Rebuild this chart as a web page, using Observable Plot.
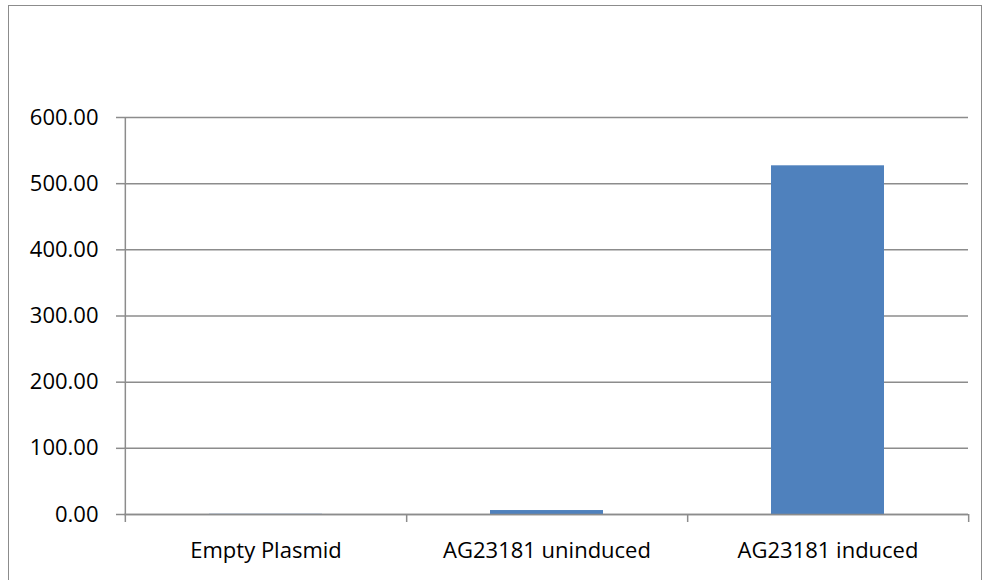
<!DOCTYPE html>
<html><head><meta charset="utf-8">
<script src="https://cdn.jsdelivr.net/npm/d3@7"></script>
<script src="https://cdn.jsdelivr.net/npm/@observablehq/plot@0.6"></script>
<style>
body{margin:0;background:#fff;overflow:hidden;}
#frame{position:absolute;left:8px;top:5px;width:974px;height:600px;border:1.5px solid #8c8c8c;box-sizing:border-box;}
#chart{position:absolute;left:0;top:0;}
</style></head><body>
<div id="frame"></div>
<div id="chart"></div>
<script>
const categories = ["Empty Plasmid", "AG23181 uninduced", "AG23181 induced"];
const values = [0.3, 6, 527];
const yTicks = [0, 100, 200, 300, 400, 500, 600];

const data = categories.map((c, i) => ({cat: c, v: values[i]}));
const W = 984, H = 580, mL = 124, mR = 16, mT = 117, mB = 66;
const step = (W - mL - mR) / categories.length;
const grid = "#8c8c8c";
const FS = 22;

const plot = Plot.plot({
  width: W, height: H,
  marginLeft: mL, marginRight: mR, marginTop: mT, marginBottom: mB,
  style: {fontFamily: "'Open Sans', sans-serif", fontSize: FS + "px", color: "#000", background: "transparent", overflow: "visible"},
  x: {domain: categories, padding: 0, label: null},
  y: {domain: [0, 600], label: null},
  marks: [
    Plot.ruleY(yTicks, {stroke: grid, strokeWidth: 1.5}),
    Plot.axisY({ticks: yTicks, tickFormat: d => d.toFixed(2), tickSize: 8, tickPadding: 18, stroke: grid, strokeWidth: 1.5, label: null, fontSize: FS, fill: "#000"}),
    Plot.barY(data, {x: "cat", y: "v", fill: "#4F81BD", insetLeft: 84, insetRight: 84}),
    Plot.ruleX([0], {x: () => categories[0], dx: -step / 2, y1: 0, y2: 0, insetBottom: -8, stroke: grid, strokeWidth: 1.5}),
    Plot.ruleX(categories, {x: d => d, dx: step / 2, y1: 0, y2: 0, insetBottom: -8, stroke: grid, strokeWidth: 1.5}),
    Plot.ruleX([0], {x: () => categories[0], dx: -step / 2, y1: 0, y2: 600, stroke: grid, strokeWidth: 1.5}),
    Plot.ruleY([0], {stroke: grid, strokeWidth: 1.5}),
    Plot.axisX({tickSize: 0, tickPadding: 28, label: null, fontSize: FS, fill: "#000"})
  ]
});
document.getElementById("chart").appendChild(plot);
</script>
</body></html>
